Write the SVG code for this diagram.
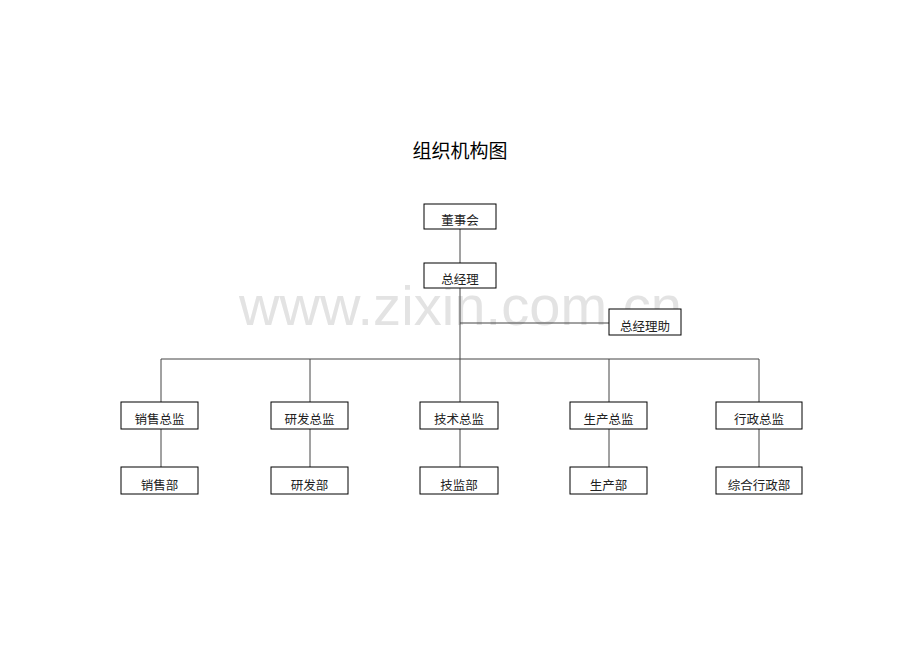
<svg xmlns="http://www.w3.org/2000/svg" width="920" height="651" viewBox="0 0 920 651">
<style>
.box{fill:#fff;stroke:#000;stroke-width:1}
.lbl{font-family:"Noto Sans CJK SC","Liberation Sans",sans-serif;font-size:12.5px;fill:#222;text-anchor:middle}
.ttl{font-family:"Noto Sans CJK SC","Liberation Sans",sans-serif;font-size:19px;fill:#000;text-anchor:middle}
.wm{font-family:"Liberation Sans",Arial,sans-serif;font-size:56px;fill:#e3e3e3}
#connectors line{stroke:#444;stroke-width:1}
</style>
<rect width="920" height="651" fill="#fff"/>
<text class="wm" x="239" y="325" textLength="443">www.zixin.com.cn</text>
<text class="ttl" x="460" y="158">组织机构图</text>
<g id="connectors">
<line x1="460" y1="229" x2="460" y2="263"/>
<line x1="460" y1="288" x2="460" y2="402"/>
<line x1="460" y1="323" x2="609" y2="323"/>
<line x1="161" y1="359" x2="759" y2="359"/>
<line x1="161" y1="359" x2="161" y2="402"/>
<line x1="310" y1="359" x2="310" y2="402"/>
<line x1="609" y1="359" x2="609" y2="402"/>
<line x1="759" y1="359" x2="759" y2="402"/>
<line x1="161" y1="429" x2="161" y2="467"/>
<line x1="310" y1="429" x2="310" y2="467"/>
<line x1="460" y1="429" x2="460" y2="467"/>
<line x1="609" y1="429" x2="609" y2="467"/>
<line x1="759" y1="429" x2="759" y2="467"/>
</g>
<g id="n-board"><rect class="box" x="424" y="204" width="72" height="25"/><text class="lbl" x="460" y="225">董事会</text></g>
<g id="n-gm"><rect class="box" x="424" y="263" width="72" height="25"/><text class="lbl" x="460" y="284">总经理</text></g>
<g id="n-assist"><rect class="box" x="609" y="309" width="72" height="26"/><text class="lbl" x="645" y="331">总经理助</text></g>
<g id="n-sales-dir"><rect class="box" x="121" y="402" width="77" height="27"/><text class="lbl" x="159.5" y="424">销售总监</text></g>
<g id="n-rd-dir"><rect class="box" x="271" y="402" width="77" height="27"/><text class="lbl" x="309.5" y="424">研发总监</text></g>
<g id="n-tech-dir"><rect class="box" x="420" y="402" width="78" height="27"/><text class="lbl" x="459" y="424">技术总监</text></g>
<g id="n-prod-dir"><rect class="box" x="570" y="402" width="77" height="27"/><text class="lbl" x="608.5" y="424">生产总监</text></g>
<g id="n-admin-dir"><rect class="box" x="716" y="402" width="86" height="27"/><text class="lbl" x="759" y="424">行政总监</text></g>
<g id="n-sales"><rect class="box" x="121" y="467" width="77" height="27"/><text class="lbl" x="159.5" y="490">销售部</text></g>
<g id="n-rd"><rect class="box" x="271" y="467" width="77" height="27"/><text class="lbl" x="309.5" y="490">研发部</text></g>
<g id="n-tech"><rect class="box" x="420" y="467" width="78" height="27"/><text class="lbl" x="459" y="490">技监部</text></g>
<g id="n-prod"><rect class="box" x="570" y="467" width="77" height="27"/><text class="lbl" x="608.5" y="490">生产部</text></g>
<g id="n-admin"><rect class="box" x="716" y="467" width="86" height="27"/><text class="lbl" x="759" y="490">综合行政部</text></g>
</svg>
